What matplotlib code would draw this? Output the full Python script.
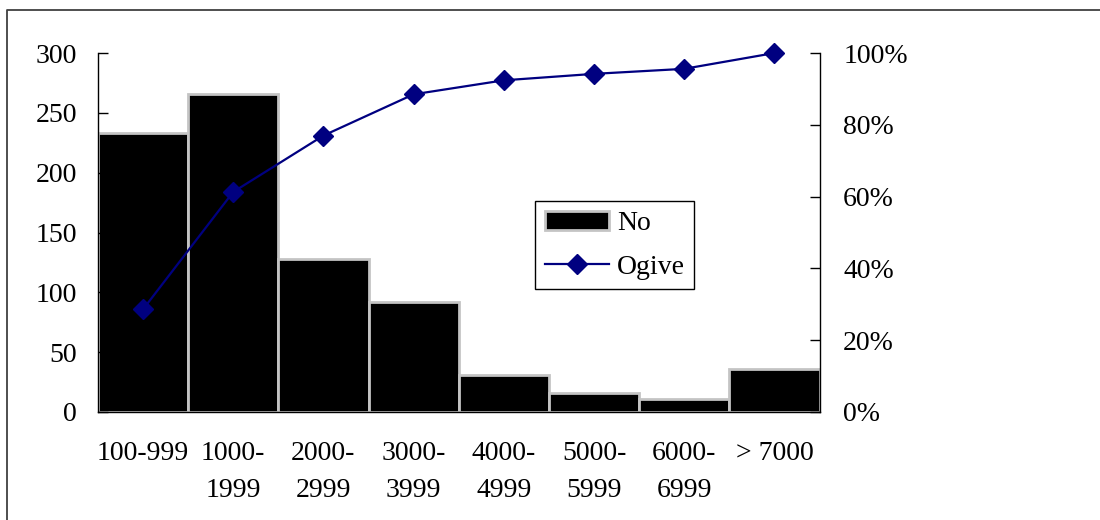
import matplotlib.pyplot as plt
from matplotlib.lines import Line2D
from matplotlib.ticker import FuncFormatter
import numpy as np

plt.rcParams['font.family'] = ['Liberation Serif', 'DejaVu Serif']

categories = ['100-999', '1000-\n1999', '2000-\n2999', '3000-\n3999',
              '4000-\n4999', '5000-\n5999', '6000-\n6999', '> 7000']
counts = [233, 266, 128, 92, 31, 16, 11, 36]
ogive = [0.286, 0.613, 0.770, 0.885, 0.924, 0.942, 0.956, 1.000]

fs = 20
x = np.arange(len(categories))

fig = plt.figure(figsize=(11, 5.2), dpi=100)
ax = fig.add_axes([0.089, 0.2077, 0.656, 0.6903])

bars = ax.bar(x, counts, width=1.0, color='black', edgecolor='#c4c4c4',
              linewidth=2, label='No')
ax.set_xlim(-0.5, len(categories) - 0.5)
ax.set_ylim(0, 300)
ax.set_yticks(np.arange(0, 301, 50))
ax.set_xticks(x)
ax.set_xticklabels(categories, fontsize=fs, linespacing=1.6)
ax.tick_params(axis='x', length=0, pad=21)
ax.tick_params(axis='y', direction='in', length=7, width=1, pad=15, labelsize=fs)
for s in ['top', 'right']:
    ax.spines[s].set_visible(False)
ax.spines['left'].set_linewidth(1)
ax.spines['bottom'].set_linewidth(1)

ax2 = ax.twinx()
line, = ax2.plot(x, ogive, color='#000080', linewidth=1.6, marker='D',
                 markersize=10, label='Ogive', clip_on=False)
ax2.set_ylim(0, 1)
ax2.set_yticks(np.arange(0, 1.01, 0.2))
ax2.yaxis.set_major_formatter(FuncFormatter(lambda v, p: '%d%%' % round(v * 100)))
ax2.tick_params(axis='y', direction='in', length=7, width=1, pad=17, labelsize=fs)
for s in ['top', 'left', 'bottom']:
    ax2.spines[s].set_visible(False)
ax2.spines['right'].set_linewidth(1)

leg = ax2.legend([bars, line], ['No', 'Ogive'], loc='upper left',
                 bbox_to_anchor=(0.606, 0.1, 0.22, 0.488), mode='expand',
                 fontsize=fs, fancybox=False, framealpha=1, edgecolor='black',
                 handlelength=2.3, borderpad=0.35, labelspacing=0.65,
                 handletextpad=0.3, borderaxespad=0)
leg.get_frame().set_linewidth(1)

# outer frame around the chart area
fig.add_artist(Line2D([7 / 1100, 7 / 1100, 1.0], [0.0, 1 - 10 / 520, 1 - 10 / 520],
                      transform=fig.transFigure, color='#404040', linewidth=1.3))

fig.savefig('out.png', dpi=100)
